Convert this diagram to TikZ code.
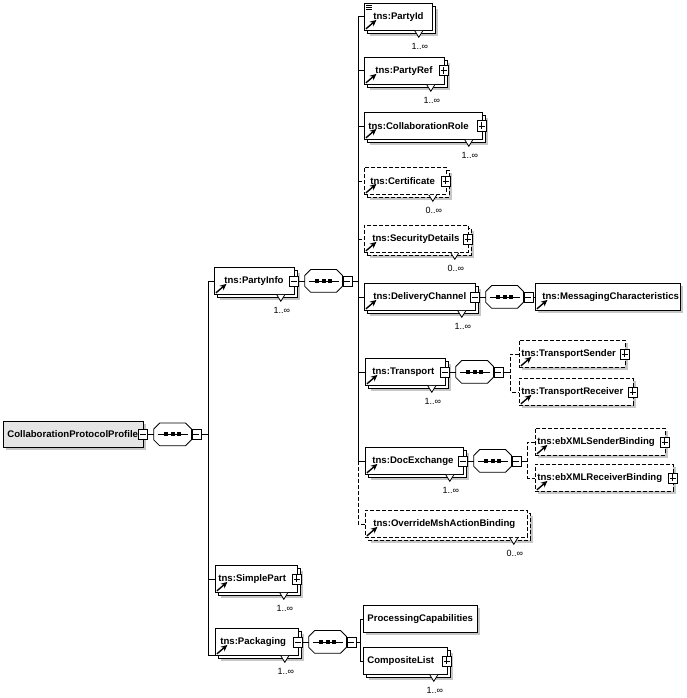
\documentclass[tikz,border=0pt]{standalone}
\usepackage{fontspec}
\setmainfont{Liberation Sans}
\usetikzlibrary{positioning,shadows,arrows.meta}
\hyphenpenalty=10000

\tikzset{
	elem/.style={draw, fill=white, anchor=north west, minimum height=27, inner ysep=0, align=left,
		font=\bfseries\fontsize{9.6}{11}\selectfont,
		drop shadow={shadow xshift=2.5pt, shadow yshift=-2.5pt, fill=black!22, opacity=1}},
	wd/.code 2 args={\pgfmathsetlengthmacro\boxtw{#1-2*(#2)}\pgfkeysalso{text width/.expanded=\boxtw, inner xsep=#2}},
	many/.style={drop shadow={shadow xshift=5.5pt, shadow yshift=-5.5pt, fill=black!22, opacity=1},
		copy shadow={shadow xshift=3pt, shadow yshift=-3pt}},
	opt/.style={dash pattern=on 4pt off 2pt},
	refarrow/.style={solid, line width=1.4pt, -{Stealth[length=6.5pt, width=6pt]}},
	ref/.style={path picture={\draw[refarrow] ([shift={(1.5,-1.5)}]path picture bounding box.south west) -- ++(10.5,-9);}},
	simple/.style={path picture={\draw[refarrow] ([shift={(1.5,-1.5)}]path picture bounding box.south west) -- ++(10.5,-9);
		\draw[solid, line width=0.6pt] ([shift={(2,2)}]path picture bounding box.north west) -- ++(6,0) ++(-6,2) -- ++(6,0) ++(-6,2) -- ++(6,0);}},
	pm/.style={draw, solid, fill=white, minimum width=9, minimum height=10, inner sep=0},
	plus/.style={pm, path picture={\draw ([xshift=1.5pt]path picture bounding box.west) -- ([xshift=-1.5pt]path picture bounding box.east)
		([yshift=-1.5pt]path picture bounding box.north) -- ([yshift=1.5pt]path picture bounding box.south);}},
	minus/.style={pm, path picture={\draw ([xshift=1.5pt]path picture bounding box.west) -- ([xshift=-1.5pt]path picture bounding box.east);}},
	seq/.style={minimum width=37, minimum height=22, inner sep=0},
	card/.style={font=\fontsize{9}{10}\selectfont, inner sep=0},
}

% multiplicity mark under a box
\newcommand{\mult}[2]{%
	\draw[fill=white] ([xshift=-18pt]#1.south east) -- ([xshift=-14pt, yshift=-6.5pt]#1.south east) -- ([xshift=-10pt]#1.south east);
	\node[card] (#1c) at ([xshift=-13pt, yshift=-16pt]#1.south east) {#2};
}

\begin{document}
\begin{tikzpicture}[x=1pt, y=-1pt, line width=0.8pt]
	\useasboundingbox (0,0) rectangle (687,698);

	% root
	\node[elem, wd={140}{4}, minimum height=26, fill=gray!20] (cpp) at (3,421) {CollaborationProtocolProfile};
	\node[minus] (cppm) at ([xshift=-1]cpp.east) {};
	\node[seq, right=6pt of cppm] (s1) {};
	\node[minus, right=0pt of s1] (s1m) {};
	\coordinate (b1) at ([xshift=7pt]s1m.east);

	% first level
	\node[elem, many, ref, wd={80}{10}] (pi) at (214,267) {tns:PartyInfo};
	\node[elem, many, ref, wd={82}{3}] (sp) at (215,565) {tns:SimplePart};
	\node[elem, many, ref, wd={83}{5}] (pk) at (215,628) {tns:Packaging};
	\node[minus] (pim) at ([xshift=-1]pi.east) {};
	\node[plus] (spp) at ([xshift=-1]sp.east) {};
	\node[minus] (pkm) at ([xshift=-1]pk.east) {};

	% PartyInfo content
	\node[seq, right=6pt of pim] (s2) {};
	\node[minus, right=0pt of s2] (s2m) {};
	\coordinate (b2) at ([xshift=6pt]s2m.east);

	\node[elem, many, simple, wd={68}{9}] (pid) at (364,3) {tns:PartyId};
	\node[elem, many, ref, wd={80}{11}] (pr) at (364,57) {tns:PartyRef};
	\node[elem, many, ref, wd={118}{4}] (cr) at (364,112) {tns:CollaborationRole};
	\node[elem, many, ref, opt, wd={82}{6}] (ce) at (364,167) {tns:Certificate};
	\node[elem, many, ref, opt, wd={104}{8}] (sd) at (364,225) {tns:SecurityDetails};
	\node[elem, many, ref, wd={111}{9}] (dc) at (364,283) {tns:DeliveryChannel};
	\node[elem, many, ref, wd={80}{7}] (tr) at (365,358) {tns:Transport};
	\node[elem, many, ref, wd={98}{7}] (dx) at (365,447) {tns:DocExchange};
	\node[elem, many, ref, opt, wd={162}{8}] (ov) at (365,510) {tns:OverrideMshActionBinding};
	\node[plus] (prp) at ([xshift=-1]pr.east) {};
	\node[plus] (crp) at ([xshift=-1]cr.east) {};
	\node[plus] (cep) at ([xshift=-1]ce.east) {};
	\node[plus] (sdp) at ([xshift=-1]sd.east) {};
	\node[minus] (dcm) at ([xshift=-1]dc.east) {};
	\node[minus] (trm) at ([xshift=-1]tr.east) {};
	\node[minus] (dxm) at ([xshift=-1]dx.east) {};

	% DeliveryChannel
	\node[seq, right=6pt of dcm] (s3) {};
	\node[minus, right=0pt of s3] (s3m) {};
	\node[elem, ref, wd={145}{7}] (mc) at (535,283) {tns:MessagingCharacteristics};

	% Transport
	\node[seq, right=6pt of trm] (s4) {};
	\node[minus, right=0pt of s4] (s4m) {};
	\coordinate (b4) at ([xshift=7pt]s4m.east);
	\node[elem, ref, opt, wd={106}{2}] (ts) at (519,340) {tns:TransportSender};
	\node[elem, ref, opt, wd={114}{2}] (trr) at (519,378) {tns:TransportReceiver};
	\node[plus] (tsp) at ([xshift=-1]ts.east) {};
	\node[plus] (trrp) at ([xshift=-1]trr.east) {};

	% DocExchange
	\node[seq, right=6pt of dxm] (s5) {};
	\node[minus, right=0pt of s5] (s5m) {};
	\coordinate (b5) at ([xshift=6pt]s5m.east);
	\node[elem, ref, opt, wd={130}{2}] (es) at (535,428) {tns:ebXMLSenderBinding};
	\node[elem, ref, opt, wd={138}{2}] (er) at (535,464) {tns:ebXMLReceiverBinding};
	\node[plus] (esp) at ([xshift=-1]es.east) {};
	\node[plus] (erp) at ([xshift=-1]er.east) {};

	% Packaging
	\node[seq, right=6pt of pkm] (s6) {};
	\node[minus, right=0pt of s6] (s6m) {};
	\coordinate (b6) at ([xshift=4pt]s6m.east);
	\node[elem, wd={114}{4}] (pc) at (363,605) {ProcessingCapabilities};
	\node[elem, many, wd={84}{4}] (cl) at (363,647) {CompositeList};
	\node[plus] (clp) at ([xshift=-1]cl.east) {};

	% sequence compositors
	\foreach \s in {s1,s2,s3,s4,s5,s6} {
		\draw[fill=white] ([xshift=6pt]\s.north west) -- ([xshift=-6pt]\s.north east) -- ([yshift=-6pt]\s.north east)
			-- ([yshift=6pt]\s.south east) -- ([xshift=-6pt]\s.south east) -- ([xshift=6pt]\s.south west)
			-- ([yshift=6pt]\s.south west) -- ([yshift=-6pt]\s.north west) -- cycle;
		\draw ([xshift=4pt]\s.west) -- ([xshift=-4pt]\s.east);
		\foreach \d in {-6.5,0,6.5}
			\fill ([xshift=\d pt]\s.center) +(-2,-2) rectangle +(2,2);
	}

	% connectors
	\draw (cppm) -- (s1);
	\draw (s1m.east) -- (b1);
	\draw (pi.west) -| (b1) |- (pk.south west);
	\draw (b1) |- (sp.west);

	\draw (pim) -- (s2);
	\draw (s2m.east) -- (b2);
	\draw (pid.west) -| (b2) |- (dx.west);
	\foreach \n in {pr,cr,dc,tr}
		\draw (b2) |- (\n.west);
	\foreach \n in {ce,sd}
		\draw[opt] (b2 |- \n.west) -- (\n.west);
	\draw[opt] (b2 |- dx.west) |- (ov.west);

	\draw (dcm) -- (s3);
	\draw (s3m.east) -- (mc.west);

	\draw (trm) -- (s4);
	\draw (s4m.east) -- (b4);
	\draw[opt] (ts.west) -| (b4) |- (trr.west);

	\draw (dxm) -- (s5);
	\draw (s5m.east) -- (b5);
	\draw[opt] (es.west) -| (b5) |- (er.west);

	\draw (pkm) -- (s6);
	\draw (s6m.east) -- (b6);
	\draw (pc.west) -| (b6) |- (cl.west);

	% multiplicities
	\foreach \n in {pi,sp,pk,pid,pr,cr,dc,tr,dx,cl}
		{\mult{\n}{1..∞}}
	\foreach \n in {ce,sd,ov}
		{\mult{\n}{0..∞}}
\end{tikzpicture}
\end{document}
